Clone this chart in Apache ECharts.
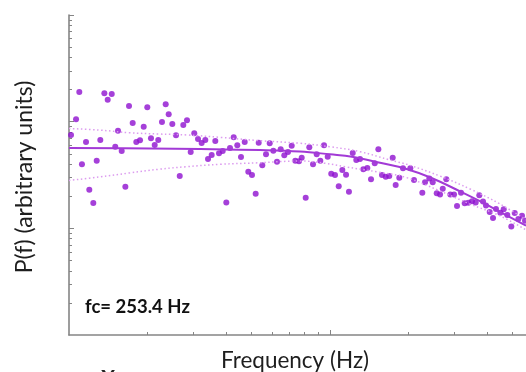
<!DOCTYPE html>
<html><head><meta charset="utf-8">
<script src="https://cdn.jsdelivr.net/npm/echarts@6/dist/echarts.min.js"></script>
<style>html,body{margin:0;padding:0;background:#fff}#c{width:526px;height:372px}</style>
</head><body><div id="c"></div>
<script>
// measured spectrum points (Hz, arbitrary units)
const freqs = [
10.18,10.64,10.95,11.21,11.62,11.96,12.39,12.77,13.18,13.66,
14.07,14.58,15.04,15.41,15.92,16.44,16.98,17.54,18.11,18.71,
19.33,19.95,20.61,21.30,21.98,22.71,23.47,24.10,24.88,25.70,
26.56,27.41,28.32,29.26,30.20,31.21,32.23,33.28,34.09,35.21,
36.35,37.56,38.81,40.06,41.39,42.76,44.14,45.60,47.12,48.64,
50.24,51.91,53.31,55.03,56.86,58.75,60.65,62.65,64.73,66.82,
69.04,71.34,73.62,76.07,77.91,80.71,83.31,86.08,88.92,91.80,
94.85,97.99,101.1,104.5,108.0,111.5,115.2,118.2,122.2,126.1,
130.3,134.2,139.0,143.6,148.4,153.2,158.2,163.5,168.7,173.9,
178.5,184.3,190.4,203.1,209.8,225.8,231.2,240.2,247.5,256.4,
264.0,270.4,279.0,289.1,298.7,306.7,317.7,328.2,338.8,350.0,
361.6,373.3,385.7,396.0,409.2,421.3,432.5,449.3,463.0,477.9,
495.1,510.2,526.7,544.1,558.7];
const powers = [
75.0,105.2,189.7,39.8,64.4,23.0,17.3,43.1,67.3,184.5,
160.7,181.6,58.2,82.3,53.1,24.6,140.3,97.1,64.4,66.9,
89.7,136.4,69.8,60.4,67.3,99.3,145.5,117.2,95.1,74.5,
30.9,93.0,103.0,52.0,77.8,68.8,63.1,67.3,44.7,48.7,
65.9,50.5,53.1,17.5,56.6,71.3,60.0,46.6,64.4,34.0,
31.6,21.1,63.5,39.0,49.4,62.7,53.4,42.2,55.1,48.4,
52.0,59.5,43.1,42.5,45.9,19.4,57.5,39.8,49.4,43.1,
60.0,46.9,32.5,31.6,24.8,35.2,31.8,22.0,50.8,43.7,
44.7,35.8,36.8,28.8,40.7,55.1,31.6,30.5,30.9,45.9,
25.5,29.8,36.5,36.5,28.4,21.6,27.0,29.4,27.0,21.3,
20.8,23.5,28.8,20.8,20.8,16.2,21.6,17.2,17.4,17.9,
17.5,20.4,17.8,16.4,14.2,12.5,15.2,14.0,15.1,13.3,
10.4,13.9,12.2,13.1,11.8];
// fitted curve
const fitFreqs = [10,20.43,31.8,53.9,76.7,100,121.4,155.5,193.8,243.8,317.7,378.9,448.1,563.6];
const fitPowers = [56.6,56.0,55.4,54.2,52.5,49.4,46.9,41.2,36.4,29.8,22.0,17.8,14.3,10.6];
// confidence bands
const upperFreqs = [10,13.03,16.98,22.12,28.32,37.89,53.9,76.7,100,130.3,169.8,200.8,264,344,448.1,563.6];
const upperPowers = [86.3,83.5,78.8,76.6,75.0,71.3,66.3,62.7,58.2,52.3,43.7,39.2,30.9,23.4,16.9,12.0];
const lowerFreqs = [10,13.03,16.98,22.12,28.07,37.89,53.9,76.7,95.7,114.2,152.8,195.5,264,344,448.1,563.6];
const lowerPowers = [28.1,30.3,33.0,35.8,37.8,39.8,41.2,42.8,40.7,37.8,33.7,30.0,22.4,16.9,13.1,9.65];
// ticks
const xMinorTicks = [20,30,40,50,60,70,80,90,200,300,400,500];
const xMajorTicks = [100];
const yMinorTicks = [2,3,4,5,6,7,8,9,20,30,40,50,60,70,80,90,200,300,400,500,600,700,800,900];
const yMajorTicks = [10,100,1000];
const xRange = [10, 563.6];
const yRange = [1, 1000];
const fcLabel = 'fc= 253.4 Hz';

const zip = (a, b) => a.map((v, i) => [v, b[i]]);
const axisColor = '#858585';
function xAx(ticks, len, showLine) {
  return {type:'log', logBase:10, min:xRange[0], max:xRange[1], position:'bottom', gridIndex:0,
    axisLine:{show:showLine, lineStyle:{color:axisColor, width:1.6}},
    axisTick:{show:true, inside:true, length:len, customValues:ticks, lineStyle:{color:axisColor, width:1}},
    axisLabel:{show:false}, splitLine:{show:false}, minorTick:{show:false}};
}
function yAx(ticks, len, showLine) {
  return {type:'log', logBase:10, min:yRange[0], max:yRange[1], position:'left', gridIndex:0,
    axisLine:{show:showLine, lineStyle:{color:axisColor, width:1.6}},
    axisTick:{show:true, inside:true, length:len, customValues:ticks, lineStyle:{color:axisColor, width:1}},
    axisLabel:{show:false}, splitLine:{show:false}, minorTick:{show:false}};
}
const chart = echarts.init(document.getElementById('c'), null, {renderer:'canvas'});
chart.setOption({
  animation:false,
  backgroundColor:'#ffffff',
  grid:{left:69, right:0, top:15, bottom:37, containLabel:false, outerBoundsMode:'none'},
  xAxis:[xAx(xMinorTicks,3,true), xAx(xMajorTicks,5,false)],
  yAxis:[yAx(yMinorTicks,3,true), yAx(yMajorTicks,5,false)],
  series:[
    {type:'line', data:zip(upperFreqs, upperPowers), smooth:0.4, symbol:'none',
     lineStyle:{color:'#dc9cef', width:1.5, type:[1.5,2.5]}},
    {type:'line', data:zip(lowerFreqs, lowerPowers), smooth:0.4, symbol:'none',
     lineStyle:{color:'#dc9cef', width:1.5, type:[1.5,2.5]}},
    {type:'line', data:zip(fitFreqs, fitPowers), smooth:0.4, symbol:'none',
     lineStyle:{color:'#a23ad6', width:2}},
    {type:'scatter', data:zip(freqs, powers), symbol:'circle', symbolSize:6,
     itemStyle:{color:'#8f10d0'}}
  ],
  graphic:[
    {type:'text', x:25, y:177, rotation:Math.PI/2,
     style:{text:'P(f) (arbitrary units)', font:'23px Lato', fill:'#1e1e1e', align:'center', verticalAlign:'middle'}},
    {type:'text', x:295, y:361,
     style:{text:'Frequency (Hz)', font:'22.5px Lato', fill:'#1e1e1e', align:'center', verticalAlign:'middle'}},
    {type:'text', x:85, y:307,
     style:{text:fcLabel, font:'bold 18.5px Lato', fill:'#111', align:'left', verticalAlign:'middle'}},
    {type:'text', x:108, y:378,
     style:{text:'X', font:'bold 21px Lato', fill:'#222', align:'center', verticalAlign:'middle'}}
  ]
});
</script></body></html>
